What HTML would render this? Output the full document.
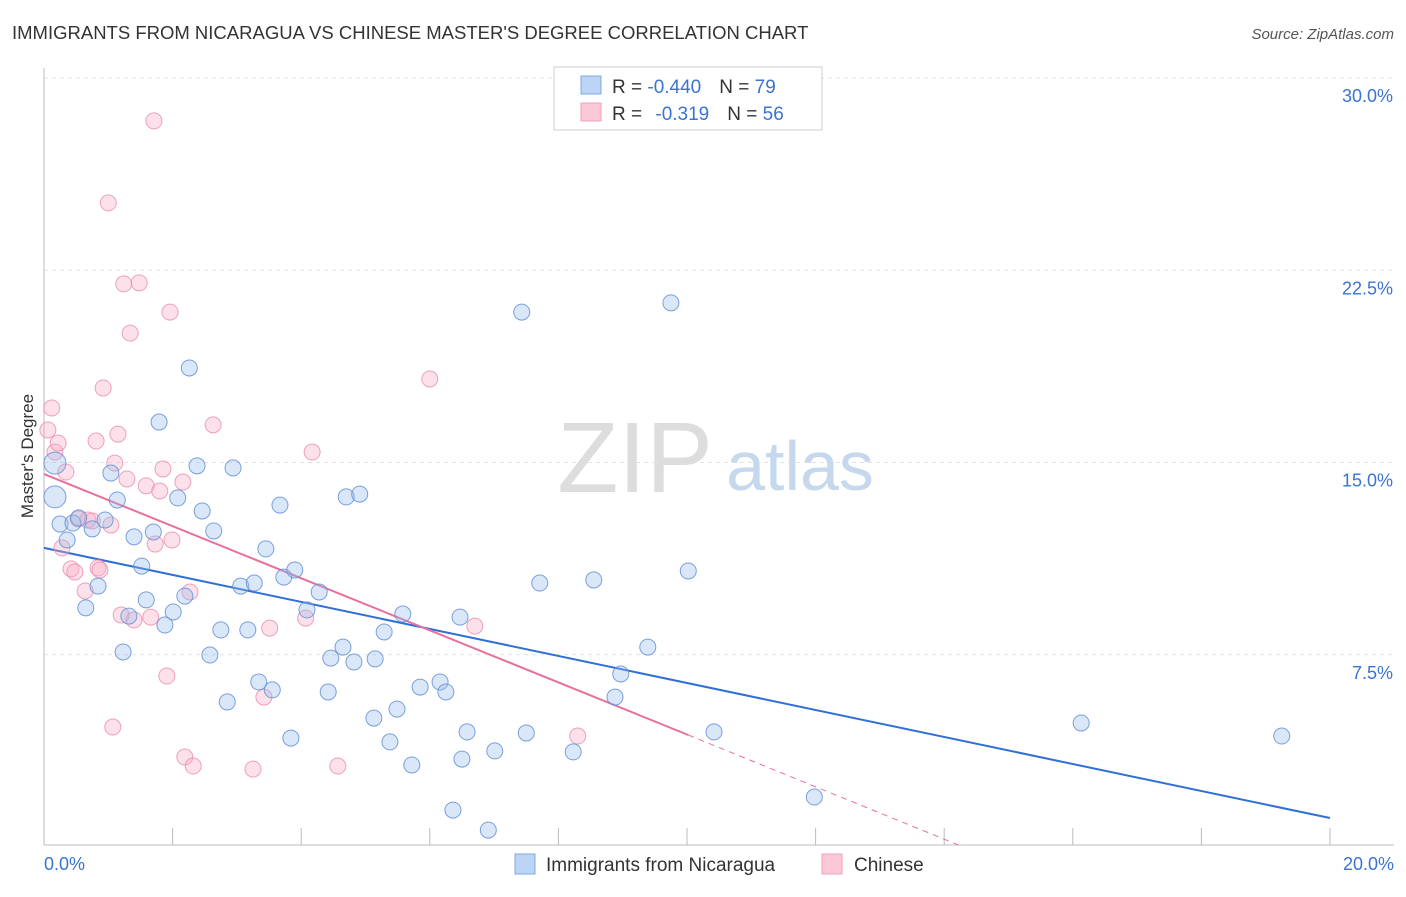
<!DOCTYPE html>
<html><head><meta charset="utf-8"><style>
body{margin:0;background:#fff;font-family:"Liberation Sans",sans-serif;}
svg text{font-family:"Liberation Sans",sans-serif;}
</style></head><body>
<svg id="chart" width="1406" height="892" viewBox="0 0 1406 892" xmlns="http://www.w3.org/2000/svg">
<text x="12" y="39" font-size="18.5" fill="#333">IMMIGRANTS FROM NICARAGUA VS CHINESE MASTER'S DEGREE CORRELATION CHART</text>
<text x="1394" y="39" font-size="15" fill="#555" font-style="italic" text-anchor="end">Source: ZipAtlas.com</text>
<text x="33" y="456" font-size="17" fill="#333" text-anchor="middle" transform="rotate(-90 33 456)">Master's Degree</text>
<g id="grid"></g>
<g><text x="635" y="492" font-size="100" fill="#ddd" font-family="Liberation Serif" text-anchor="middle">ZIP</text><text x="800" y="490" font-size="70" fill="#c5d8ee" text-anchor="middle">atlas</text></g>
<g id="axes"></g>
<g id="lines"></g>
<g id="points"></g>
<g>
<rect x="554" y="67" width="268" height="63" fill="#fff" stroke="#ccc"/>
<rect x="581" y="76" width="20" height="18" fill="#bcd4f5" stroke="#7fa8e0"/>
<rect x="581" y="103" width="20" height="18" fill="#fbc8d8" stroke="#f0a0b8"/>
<text x="612" y="93" font-size="19" fill="#333">R = <tspan fill="#3a74d0">-0.440</tspan><tspan dx="18">N = </tspan><tspan fill="#3a74d0">79</tspan></text>
<text x="612" y="120" font-size="19" fill="#333">R = <tspan dx="8" fill="#3a74d0">-0.319</tspan><tspan dx="18">N = </tspan><tspan fill="#3a74d0">56</tspan></text>
</g>
<g>
<rect x="515" y="854" width="20" height="20" fill="#bcd4f5" stroke="#7fa8e0"/>
<text x="546" y="871" font-size="19" fill="#333">Immigrants from Nicaragua</text>
<rect x="822" y="854" width="20" height="20" fill="#fbc8d8" stroke="#f0a0b8"/>
<text x="854" y="871" font-size="19" fill="#333">Chinese</text>
</g>
</svg>
<script>
const yTicks=[7.5,15,22.5,30];
const yTickLabels=["7.5%","15.0%","22.5%","30.0%"];
const xTickLabels=["0.0%","20.0%"];
const blueX=[0.17,0.17,0.25,0.36,0.45,0.54,0.65,0.75,0.84,0.95,1.04,1.14,1.23,1.32,1.40,1.52,1.59,1.70,1.79,1.88,2.01,2.08,2.19,2.26,2.38,2.46,2.58,2.64,2.75,2.85,2.94,3.06,3.17,3.27,3.34,3.45,3.55,3.67,3.73,3.84,3.90,4.09,4.28,4.42,4.46,4.65,4.70,4.82,4.91,5.13,5.15,5.29,5.38,5.49,5.58,5.72,5.85,6.16,6.25,6.36,6.47,6.50,6.58,6.91,7.01,7.43,7.50,7.71,8.23,8.55,8.88,8.97,9.39,9.75,10.02,10.42,11.98,16.13,19.25];
const blueY=[13.66,14.98,12.60,11.98,12.64,12.84,9.33,12.41,10.18,12.76,14.59,13.54,7.61,9.01,12.10,10.96,9.64,12.29,16.58,8.66,9.17,13.62,9.79,18.69,14.87,13.11,7.49,12.33,8.47,5.66,14.79,10.18,8.47,10.30,6.44,11.63,6.13,13.34,10.53,4.25,10.81,9.25,9.95,6.05,7.37,7.80,13.66,7.22,13.77,5.03,7.34,8.39,4.10,5.38,9.09,3.20,6.24,6.44,6.05,1.44,8.97,3.43,4.49,0.66,3.75,20.87,4.45,10.30,3.71,10.42,5.85,6.75,7.80,21.23,10.77,4.49,1.95,4.84,4.33];
const pinkX=[0.06,0.12,0.17,0.22,0.28,0.34,0.42,0.48,0.53,0.64,0.68,0.75,0.81,0.84,0.87,0.92,1.00,1.04,1.07,1.10,1.15,1.20,1.24,1.29,1.34,1.40,1.48,1.59,1.66,1.71,1.73,1.80,1.85,1.91,1.96,1.99,2.16,2.19,2.27,2.32,2.63,3.25,3.42,3.51,4.07,4.17,4.57,6.00,6.70,8.30];
const pinkY=[16.27,17.13,15.41,15.76,11.67,14.63,10.85,10.73,12.80,9.99,12.76,12.72,15.84,10.89,10.81,17.91,25.13,12.56,4.68,14.98,16.11,9.05,21.97,14.36,20.05,8.86,22.01,14.09,8.97,28.33,11.82,13.89,14.75,6.67,20.87,11.98,14.24,3.51,9.95,3.16,16.47,3.04,5.85,8.54,8.93,15.41,3.16,18.26,8.62,4.33];
const blueFit=[11.67,1.13];
const pinkFit=[14.55,4.37,10.02,0.0,14.3];
const X=v=>44+v*64.3, Y=v=>847-v*25.63;
const NS="http://www.w3.org/2000/svg";
function mk(tag,attrs,parent){const e=document.createElementNS(NS,tag);for(const k in attrs)e.setAttribute(k,attrs[k]);document.getElementById(parent).appendChild(e);return e;}
yTicks.forEach((t,i)=>{
 const g=mk('line',{x1:44,x2:1394,y1:Y(t),y2:Y(t),stroke:'#e2e2e2','stroke-dasharray':'4,4'},'grid');
 
 
 const l=mk('text',{x:1393,y:Y(t)+24,'font-size':18,fill:'#3a74d0','text-anchor':'end'},'axes');l.textContent=yTickLabels[i];
 
 
});
let ax=mk('line',{x1:44,x2:1394,y1:845,y2:845,stroke:'#bbb'},'axes');


let ay=mk('line',{x1:44,x2:44,y1:68,y2:845,stroke:'#bbb'},'axes');


for(let v=0;v<=20;v+=2){const t=mk('line',{x1:X(v),x2:X(v),y1:828,y2:845,stroke:'#bbb'},'axes');
 
 }
[[0,'start'],[20,'end']].forEach((p,i)=>{const l=mk('text',{x:i?1394:44,y:870,'font-size':18,fill:'#3a74d0','text-anchor':p[1]},'axes');l.textContent=xTickLabels[i];
 
 });
let bl=mk('line',{x1:X(0),y1:Y(blueFit[0]),x2:X(20),y2:Y(blueFit[1]),stroke:'#2f6fd6','stroke-width':2},'lines');


let pl=mk('line',{x1:X(0),y1:Y(pinkFit[0]),x2:X(pinkFit[2]),y2:Y(pinkFit[1]),stroke:'#e8709a','stroke-width':2},'lines');


let pd=mk('line',{x1:X(pinkFit[2]),y1:Y(pinkFit[1]),x2:X(pinkFit[4]),y2:Y(pinkFit[3]),stroke:'#e8709a','stroke-width':1,'stroke-dasharray':'6,5'},'lines');


pinkX.forEach((x,i)=>{const c=mk('circle',{cx:X(x),cy:Y(pinkY[i]),r:8,fill:'rgba(248,170,195,0.35)',stroke:'rgba(235,140,170,0.8)','stroke-width':1},'points');
 
 });
blueX.forEach((x,i)=>{const c=mk('circle',{cx:X(x),cy:Y(blueY[i]),r:i<2?11:8,fill:'rgba(150,185,235,0.35)',stroke:'rgba(100,145,215,0.85)','stroke-width':1},'points');
 
 });
</script>
</body></html>
